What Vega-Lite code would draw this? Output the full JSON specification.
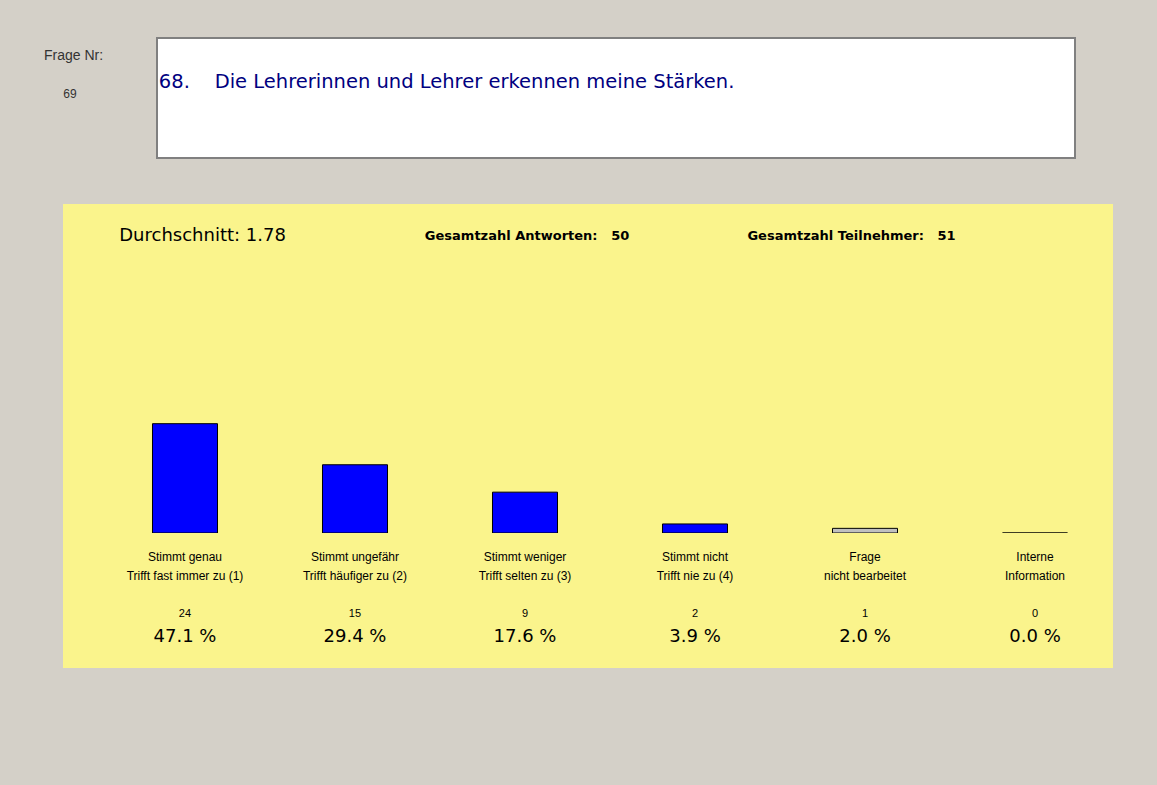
{
  "$schema": "https://vega.github.io/schema/vega-lite/v6.json",
  "background": "#D4D0C8",
  "padding": {"left": 44, "top": 37, "right": 60, "bottom": 150},
  "config": {
    "view": {"stroke": null},
    "font": "Liberation Sans",
    "locale": {"number": {"decimal": ".", "thousands": ",", "grouping": [3], "currency": ["", "\u00a0%"]}}
  },
  "datasets": {
    "antworten": [
      {"kategorie": "Stimmt genau\nTrifft fast immer zu (1)", "anzahl": 24, "prozent": 47.1},
      {"kategorie": "Stimmt ungefähr\nTrifft häufiger zu (2)", "anzahl": 15, "prozent": 29.4},
      {"kategorie": "Stimmt weniger\nTrifft selten zu (3)", "anzahl": 9, "prozent": 17.6},
      {"kategorie": "Stimmt nicht\nTrifft nie zu (4)", "anzahl": 2, "prozent": 3.9},
      {"kategorie": "Frage\nnicht bearbeitet", "anzahl": 1, "prozent": 2.0},
      {"kategorie": "Interne\nInformation", "anzahl": 0, "prozent": 0.0}
    ],
    "kennzahlen": [
      {"angabe": "Durchschnitt: 1.78", "art": "mittel"},
      {"angabe": "Gesamtzahl Antworten:\u00a0\u00a0\u00a050", "art": "summe"},
      {"angabe": "Gesamtzahl Teilnehmer:\u00a0\u00a0\u00a051", "art": "summe"}
    ],
    "frage": [
      {"nr": 69, "text": "68.\u00a0\u00a0\u00a0\u00a0Die Lehrerinnen und Lehrer erkennen meine Stärken."}
    ]
  },
  "bounds": "flush",
  "spacing": 166,
  "vconcat": [
    {
      "bounds": "flush",
      "spacing": 80,
      "hconcat": [
        {
          "width": 14,
          "height": 112,
          "data": {"name": "frage"},
          "title": {"text": "Frage Nr:", "anchor": "start", "dx": -19, "offset": -25, "font": "Liberation Sans", "fontSize": 14, "fontWeight": "normal", "color": "#333333"},
          "mark": {"type": "text", "font": "Liberation Sans", "fontSize": 12, "color": "#333333", "baseline": "middle", "align": "center"},
          "encoding": {"text": {"field": "nr", "type": "quantitative"}}
        },
        {
          "width": 918,
          "height": 120,
          "view": {"fill": "#FFFFFF", "stroke": "#808080", "strokeWidth": 2},
          "data": {"name": "frage"},
          "mark": {"type": "text", "font": "DejaVu Sans", "fontSize": 19.5, "color": "#000080", "align": "left", "baseline": "alphabetic"},
          "encoding": {
            "x": {"field": "text", "type": "nominal", "scale": {"type": "point", "padding": 0, "align": 0.002}, "axis": null},
            "y": {"field": "text", "type": "nominal", "scale": {"type": "point", "padding": 0, "align": 0.4167}, "axis": null},
            "text": {"field": "text", "type": "nominal"}
          }
        }
      ]
    },
    {
      "bounds": "flush",
      "spacing": 0,
      "vconcat": [
        {
          "width": 1050,
          "height": 63,
          "view": {"fill": "#FAF48C"},
          "data": {"name": "kennzahlen"},
          "encoding": {
            "x": {"field": "angabe", "type": "nominal", "scale": {"type": "point", "padding": 0.618, "align": 0.348}, "axis": null},
            "text": {"field": "angabe", "type": "nominal"}
          },
          "layer": [
            {
              "transform": [{"filter": "datum.art == 'mittel'"}],
              "mark": {"type": "text", "font": "DejaVu Sans", "fontSize": 18, "color": "#000000", "baseline": "middle", "align": "center"}
            },
            {
              "transform": [{"filter": "datum.art == 'summe'"}],
              "mark": {"type": "text", "font": "DejaVu Sans", "fontSize": 13, "fontWeight": "bold", "color": "#000000", "baseline": "middle", "align": "center"}
            }
          ]
        },
        {
          "width": 1050,
          "height": 266,
          "view": {"fill": "#FAF48C"},
          "data": {"name": "antworten"},
          "mark": {"type": "bar", "stroke": "#000000", "strokeWidth": 1},
          "encoding": {
            "x": {"field": "kategorie", "type": "nominal", "sort": null, "scale": {"type": "band", "paddingInner": 0.6176, "paddingOuter": 0.397, "align": 0.663}, "axis": null},
            "y": {"field": "prozent", "type": "quantitative", "scale": {"domain": [0, 114.6], "nice": false}, "axis": null},
            "color": {"field": "kategorie", "type": "nominal", "sort": null, "scale": {"range": ["#0000FF", "#0000FF", "#0000FF", "#0000FF", "#C0C0C0", "#000000"]}, "legend": null}
          }
        },
        {
          "width": 1050,
          "height": 55,
          "view": {"fill": "#FAF48C"},
          "data": {"name": "antworten"},
          "mark": {"type": "text", "font": "Liberation Sans", "fontSize": 12, "lineBreak": "\n", "lineHeight": 19, "baseline": "alphabetic", "align": "center", "color": "#000000"},
          "encoding": {
            "x": {"field": "kategorie", "type": "nominal", "sort": null, "scale": {"type": "band", "paddingInner": 0.6176, "paddingOuter": 0.397, "align": 0.663}, "axis": null},
            "text": {"field": "kategorie", "type": "nominal"}
          }
        },
        {
          "width": 1050,
          "height": 51,
          "view": {"fill": "#FAF48C"},
          "data": {"name": "antworten"},
          "mark": {"type": "text", "font": "Liberation Sans", "fontSize": 11, "baseline": "middle", "align": "center", "color": "#000000"},
          "encoding": {
            "x": {"field": "kategorie", "type": "nominal", "sort": null, "scale": {"type": "band", "paddingInner": 0.6176, "paddingOuter": 0.397, "align": 0.663}, "axis": null},
            "text": {"field": "anzahl", "type": "quantitative"}
          }
        },
        {
          "width": 1050,
          "height": 29,
          "view": {"fill": "#FAF48C"},
          "data": {"name": "antworten"},
          "mark": {"type": "text", "font": "DejaVu Sans", "fontSize": 18, "baseline": "line-bottom", "lineHeight": 34, "align": "center", "color": "#000000"},
          "encoding": {
            "x": {"field": "kategorie", "type": "nominal", "sort": null, "scale": {"type": "band", "paddingInner": 0.6176, "paddingOuter": 0.397, "align": 0.663}, "axis": null},
            "text": {"field": "prozent", "type": "quantitative", "format": "$.1f"}
          }
        }
      ]
    }
  ]
}
